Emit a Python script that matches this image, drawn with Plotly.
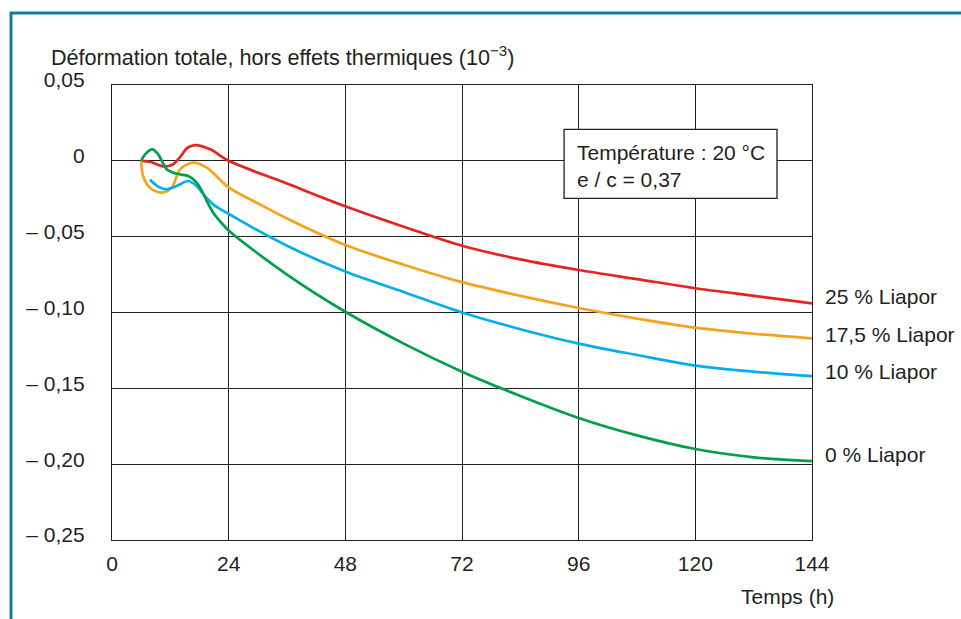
import plotly.graph_objects as go

# Temps (h) et déformation (10^-3) pour chaque dosage en Liapor
t_25 = [6, 8, 10.5, 12.3, 14, 15.5, 17, 20.2, 24, 36, 48, 60, 72, 84, 96, 108, 120, 132, 144]
d_25 = [0, -0.0008, -0.0036, -0.0028, 0.0025, 0.0085, 0.0104, 0.0076, 0.0, -0.015, -0.030, -0.0435,
        -0.056, -0.065, -0.072, -0.078, -0.084, -0.089, -0.094]

t_175 = [6, 6.4, 7.8, 10.2, 12.3, 14, 16.7, 19.5, 24, 30.4, 36, 48, 60, 72, 84, 96, 108, 120, 132, 144]
d_175 = [0, -0.010, -0.0177, -0.021, -0.0177, -0.0056, -0.0012, -0.0045, -0.0175, -0.0287, -0.038,
         -0.0555, -0.0685, -0.080, -0.089, -0.097, -0.104, -0.110, -0.114, -0.117]

t_10 = [7.8, 9.5, 11.25, 13.3, 15.7, 17.4, 18.8, 20.8, 24, 36, 48, 60, 72, 84, 96, 108, 120, 132, 144]
d_10 = [-0.0125, -0.017, -0.0188, -0.0166, -0.0133, -0.0166, -0.022, -0.0287, -0.035, -0.056, -0.073,
        -0.0865, -0.100, -0.111, -0.1205, -0.128, -0.135, -0.139, -0.142]

t_0 = [6, 6.8, 8.3, 9.5, 11.25, 12.6, 14, 15.7, 17.1, 18.1, 19.5, 20.8, 22.2, 24, 36, 48, 60,
       72, 84, 96, 108, 120, 132, 144]
d_0 = [0, 0.0043, 0.0076, 0.0043, -0.0056, -0.0078, -0.0089, -0.010, -0.0133, -0.0175, -0.0265, -0.034,
       -0.0397, -0.046, -0.075, -0.0995, -0.1205, -0.139, -0.155, -0.1695, -0.181, -0.190, -0.1955, -0.198]

series = [
    ("25 % Liapor", t_25, d_25, "#e52421", -0.0894),
    ("17,5 % Liapor", t_175, d_175, "#f7a21b", -0.1144),
    ("10 % Liapor", t_10, d_10, "#00aeef", -0.1389),
    ("0 % Liapor", t_0, d_0, "#00a04a", -0.1936),
]

x_ticks = [0, 24, 48, 72, 96, 120, 144]
y_ticks = [0.05, 0, -0.05, -0.10, -0.15, -0.20, -0.25]
y_tick_text = ["0,05", "0", "– 0,05", "– 0,10", "– 0,15", "– 0,20", "– 0,25"]

TXT = "#231f20"
FONT = "Liberation Sans, Arial, sans-serif"
FS = 21

fig = go.Figure()
for name, t, d, color, _ in series:
    fig.add_trace(go.Scatter(x=t, y=d, mode="lines", name=name,
                             line=dict(color=color, width=2.7, shape="spline", smoothing=0.9),
                             showlegend=False))

annotations = []
for name, t, d, color, ylab in series:
    annotations.append(dict(x=144, y=ylab, xref="x", yref="y", text=name, showarrow=False,
                            xanchor="left", xshift=11, font=dict(size=FS, color=TXT, family=FONT)))

# titre de l'axe vertical
annotations.append(dict(x=-0.09, y=1.0637, xref="paper", yref="paper", xanchor="left", yanchor="middle",
                        text="Déformation totale, hors effets thermiques (10<sup>−3</sup>)",
                        showarrow=False, font=dict(size=21.6, color=TXT, family=FONT)))
# titre de l'axe horizontal
annotations.append(dict(x=1.034, y=-0.125, xref="paper", yref="paper", xanchor="right", yanchor="middle",
                        text="Temps (h)", showarrow=False, font=dict(size=FS, color=TXT, family=FONT)))
# encadré des conditions d'essai
annotations.append(dict(x=95.3, y=0.0054, xref="x", yref="y", xanchor="left", yanchor="middle",
                        text="Température : 20 °C", showarrow=False, font=dict(size=FS, color=TXT, family=FONT)))
annotations.append(dict(x=95.3, y=-0.0124, xref="x", yref="y", xanchor="left", yanchor="middle",
                        text="e / c = 0,37", showarrow=False, font=dict(size=FS, color=TXT, family=FONT)))

shapes = [
    dict(type="rect", xref="x", yref="y", x0=93.0, x1=136.8, y0=-0.0247, y1=0.0208,
         fillcolor="white", line=dict(color=TXT, width=1.3), layer="above"),
    # cadre bleu de la figure
    dict(type="path", xref="paper", yref="paper",
         path="M -0.1443,-0.3 L -0.1443,1.1582 L 1.4,1.1582",
         line=dict(color="#0e809e", width=3)),
]

axis_common = dict(showgrid=True, gridcolor=TXT, gridwidth=1.3, zeroline=False,
                   showline=True, linecolor=TXT, linewidth=1.3, mirror=True,
                   ticks="", tickfont=dict(size=FS, color=TXT, family=FONT))

fig.update_layout(
    width=961, height=619,
    margin=dict(l=112, r=149, t=85, b=79),
    paper_bgcolor="white", plot_bgcolor="white",
    xaxis=dict(range=[0, 144], tickvals=x_ticks, ticktext=[str(v) for v in x_ticks],
               ticklabelstandoff=5, **axis_common),
    yaxis=dict(range=[-0.25, 0.05], tickvals=y_ticks, ticktext=y_tick_text,
               ticklabelstandoff=22, ticklabelshift=-5, **axis_common),
    annotations=annotations,
    shapes=shapes,
)

fig.write_html("out.html")
